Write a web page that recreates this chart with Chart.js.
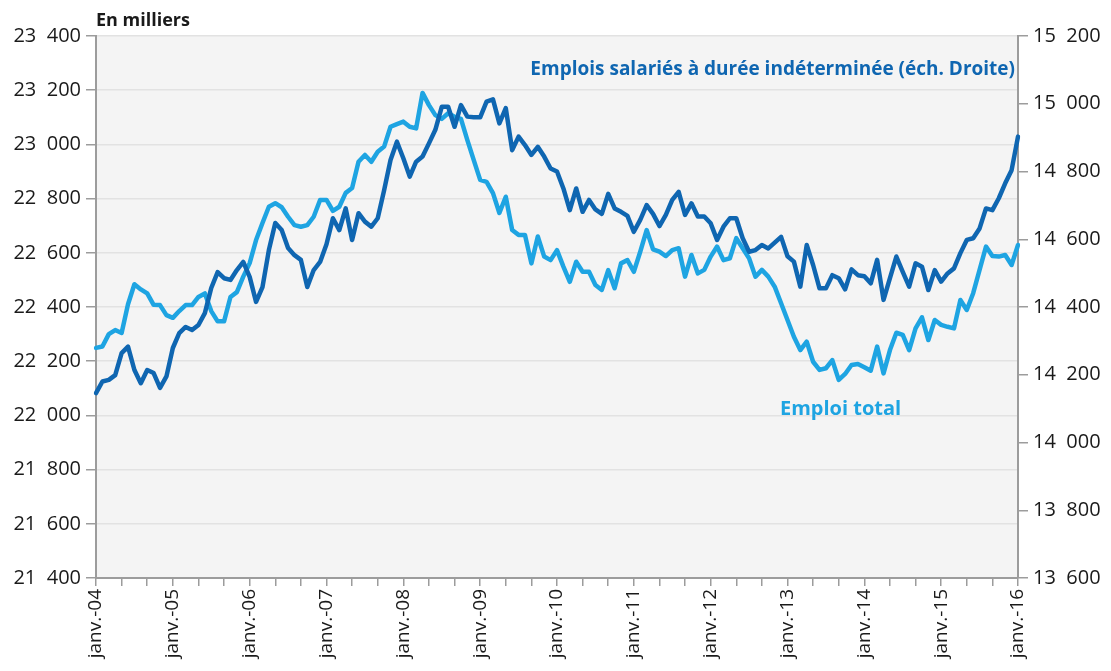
<!DOCTYPE html>
<html>
<head>
<meta charset="utf-8">
<script src="https://cdn.jsdelivr.net/npm/chart.js@4.4.1/dist/chart.umd.min.js"></script>
<style>
  html, body { margin: 0; padding: 0; background: #ffffff; }
  #wrap { width: 1111px; height: 671px; position: relative; }
</style>
</head>
<body>
<div id="wrap"><canvas id="c" width="1111" height="671"></canvas></div>
<script>
// ---- Data ----
const years = ['04','05','06','07','08','09','10','11','12','13','14','15','16'];
const yearLabels = years.map(y => 'janv.-' + y);

// Emploi total (left axis, thousands), monthly Jan 2004 .. Jan 2016
const emploiTotal = [
  22249, 22254, 22300, 22315, 22304, 22410, 22484, 22465, 22450, 22408, 22407, 22370,
  22360, 22385, 22407, 22407, 22437, 22450, 22385, 22347, 22347, 22437, 22455, 22512,
  22562, 22647, 22710, 22770, 22783, 22768, 22733, 22702, 22696, 22702, 22733, 22795,
  22795, 22755, 22770, 22821, 22839, 22936, 22961, 22936, 22973, 22992, 23065, 23075,
  23084, 23065, 23059, 23190, 23145, 23108, 23094, 23115, 23102, 23094, 23016, 22942,
  22869, 22862, 22820, 22747, 22807, 22684, 22666, 22666, 22561, 22660, 22586, 22573,
  22610, 22549, 22493, 22567, 22530, 22530, 22481, 22463, 22536, 22469, 22561, 22573,
  22530, 22604, 22684, 22613, 22604, 22588, 22610, 22617, 22512, 22592, 22524, 22537,
  22586, 22623, 22573, 22580, 22654, 22617, 22580, 22512, 22537, 22512, 22475, 22414,
  22352, 22290, 22241, 22272, 22198, 22168, 22174, 22204, 22131, 22153, 22186, 22190,
  22178, 22165, 22254, 22155, 22241, 22305, 22297, 22241, 22321, 22362, 22278, 22352,
  22334, 22327, 22321, 22426, 22389, 22451, 22537, 22623, 22588, 22586, 22592, 22555,
  22629
];

// Emplois salariés à durée indéterminée (right axis, thousands)
const emploisCDI = [
  14146, 14180, 14185, 14199, 14264, 14283, 14214, 14175, 14214, 14205, 14161, 14195,
  14279, 14323, 14341, 14332, 14347, 14382, 14456, 14503, 14485, 14480, 14509, 14533,
  14489, 14415, 14459, 14568, 14648, 14627, 14574, 14553, 14539, 14459, 14509, 14533,
  14585, 14662, 14627, 14691, 14598, 14677, 14652, 14637, 14662, 14745, 14834, 14888,
  14839, 14785, 14829, 14844, 14883, 14923, 14991, 14991, 14932, 14996, 14962, 14960,
  14960, 15006, 15013, 14942, 14987, 14863, 14903, 14878, 14849, 14873, 14844, 14809,
  14800, 14750, 14686, 14750, 14681, 14716, 14688, 14675, 14734, 14691, 14681, 14669,
  14622, 14657, 14701, 14675, 14639, 14672, 14716, 14740, 14672, 14706, 14667, 14667,
  14647, 14598, 14637, 14662, 14662, 14603, 14563, 14568, 14583, 14573, 14590, 14607,
  14550, 14534, 14460, 14583, 14524, 14455, 14455, 14494, 14485, 14452, 14511, 14494,
  14491, 14470, 14539, 14421, 14485, 14549, 14504, 14460, 14529, 14519, 14450, 14509,
  14475, 14499, 14514, 14559, 14598, 14603, 14632, 14691, 14686, 14721, 14765, 14804,
  14903
];

// monthly categories: each January carries the year label
const monthNames = ['janv.','févr.','mars','avr.','mai','juin','juil.','août','sept.','oct.','nov.','déc.'];
const categories = [];
years.forEach((y, i) => {
  if (i < years.length - 1) monthNames.forEach(m => categories.push(m + '-' + y));
  else categories.push('janv.-' + y);
});

const leftMin = 21400, leftMax = 23400, rightMin = 13600, rightMax = 15200, stepVal = 200;

// ---- Styles ----
const LIGHT = '#1ea4e2';
const DARK = '#0f66b1';
const AXIS = '#9c9c9c';
const FONT = '"Open Sans", "Noto Sans", sans-serif';

function fmt(v) {
  return String(v).replace(/\B(?=(\d{3})+(?!\d))/g, '  ');
}

const bgPlugin = {
  id: 'bg',
  beforeDraw(chart) {
    const { ctx, chartArea: a } = chart;
    ctx.save();
    ctx.fillStyle = '#ffffff';
    ctx.fillRect(0, 0, chart.width, chart.height);
    ctx.fillStyle = '#f4f4f4';
    ctx.fillRect(a.left, a.top, a.right - a.left, a.bottom - a.top);
    ctx.restore();
  }
};

const textPlugin = {
  id: 'texts',
  afterDraw(chart) {
    const { ctx, chartArea: a } = chart;
    ctx.save();
    ctx.textBaseline = 'alphabetic';
    ctx.fillStyle = '#1a1a1a';
    ctx.font = 'bold 18px ' + FONT;
    ctx.textAlign = 'left';
    ctx.fillText('En milliers', a.left, 26);

    ctx.fillStyle = DARK;
    ctx.font = 'bold 19px ' + FONT;
    ctx.textAlign = 'right';
    ctx.fillText('Emplois salariés à durée indéterminée (éch. Droite)', a.right - 3, 75);

    ctx.fillStyle = LIGHT;
    ctx.font = 'bold 20px ' + FONT;
    ctx.textAlign = 'left';
    ctx.fillText('Emploi total', 780, 415);
    ctx.restore();
  }
};

new Chart(document.getElementById('c'), {
  type: 'line',
  data: {
    labels: categories,
    datasets: [
      {
        label: 'Emplois salariés à durée indéterminée (éch. Droite)',
        data: emploisCDI,
        yAxisID: 'yR',
        borderColor: DARK,
        borderWidth: 4.5,
        pointRadius: 0,
        tension: 0,
        borderJoinStyle: 'round',
        borderCapStyle: 'round',
        order: 0
      },
      {
        label: 'Emploi total',
        data: emploiTotal,
        yAxisID: 'yL',
        borderColor: LIGHT,
        borderWidth: 4.5,
        pointRadius: 0,
        tension: 0,
        borderJoinStyle: 'round',
        borderCapStyle: 'round',
        order: 1
      }
    ]
  },
  options: {
    responsive: false,
    animation: false,
    layout: { padding: { top: 36, left: 0, right: 0, bottom: 0 } },
    plugins: { legend: { display: false }, tooltip: { enabled: false } },
    scales: {
      x: {
        type: 'category',
        offset: false,
        border: { color: AXIS, width: 2 },
        grid: { drawOnChartArea: false, drawTicks: true, tickLength: 8, tickColor: AXIS, lineWidth: 1.5 },
        ticks: {
          autoSkip: false,
          maxRotation: 90,
          minRotation: 90,
          padding: 3,
          color: '#1a1a1a',
          font: { family: FONT, size: 19 },
          callback(val, idx) {
            if (idx % 12 === 0) return yearLabels[idx / 12];
            if (idx % 4 === 0) return '';
            return null;
          }
        },
        afterFit(s) { s.height = 93; }
      },
      yL: {
        position: 'left',
        min: leftMin,
        max: leftMax,
        border: { color: AXIS, width: 2 },
        grid: { color: '#e2e2e2', lineWidth: 1.5, tickLength: 10, tickColor: AXIS },
        ticks: {
          stepSize: stepVal,
          padding: 5,
          color: '#1a1a1a',
          font: { family: FONT, size: 20 },
          callback: v => fmt(v)
        },
        afterFit(s) { s.width = 96; }
      },
      yR: {
        position: 'right',
        min: rightMin,
        max: rightMax,
        border: { color: AXIS, width: 2 },
        grid: { drawOnChartArea: false, tickLength: 10, tickColor: AXIS, lineWidth: 1.5 },
        ticks: {
          stepSize: stepVal,
          padding: 5,
          color: '#1a1a1a',
          font: { family: FONT, size: 20 },
          callback: v => fmt(v)
        },
        afterFit(s) { s.width = 93; }
      }
    }
  },
  plugins: [bgPlugin, textPlugin]
});
</script>
</body>
</html>
